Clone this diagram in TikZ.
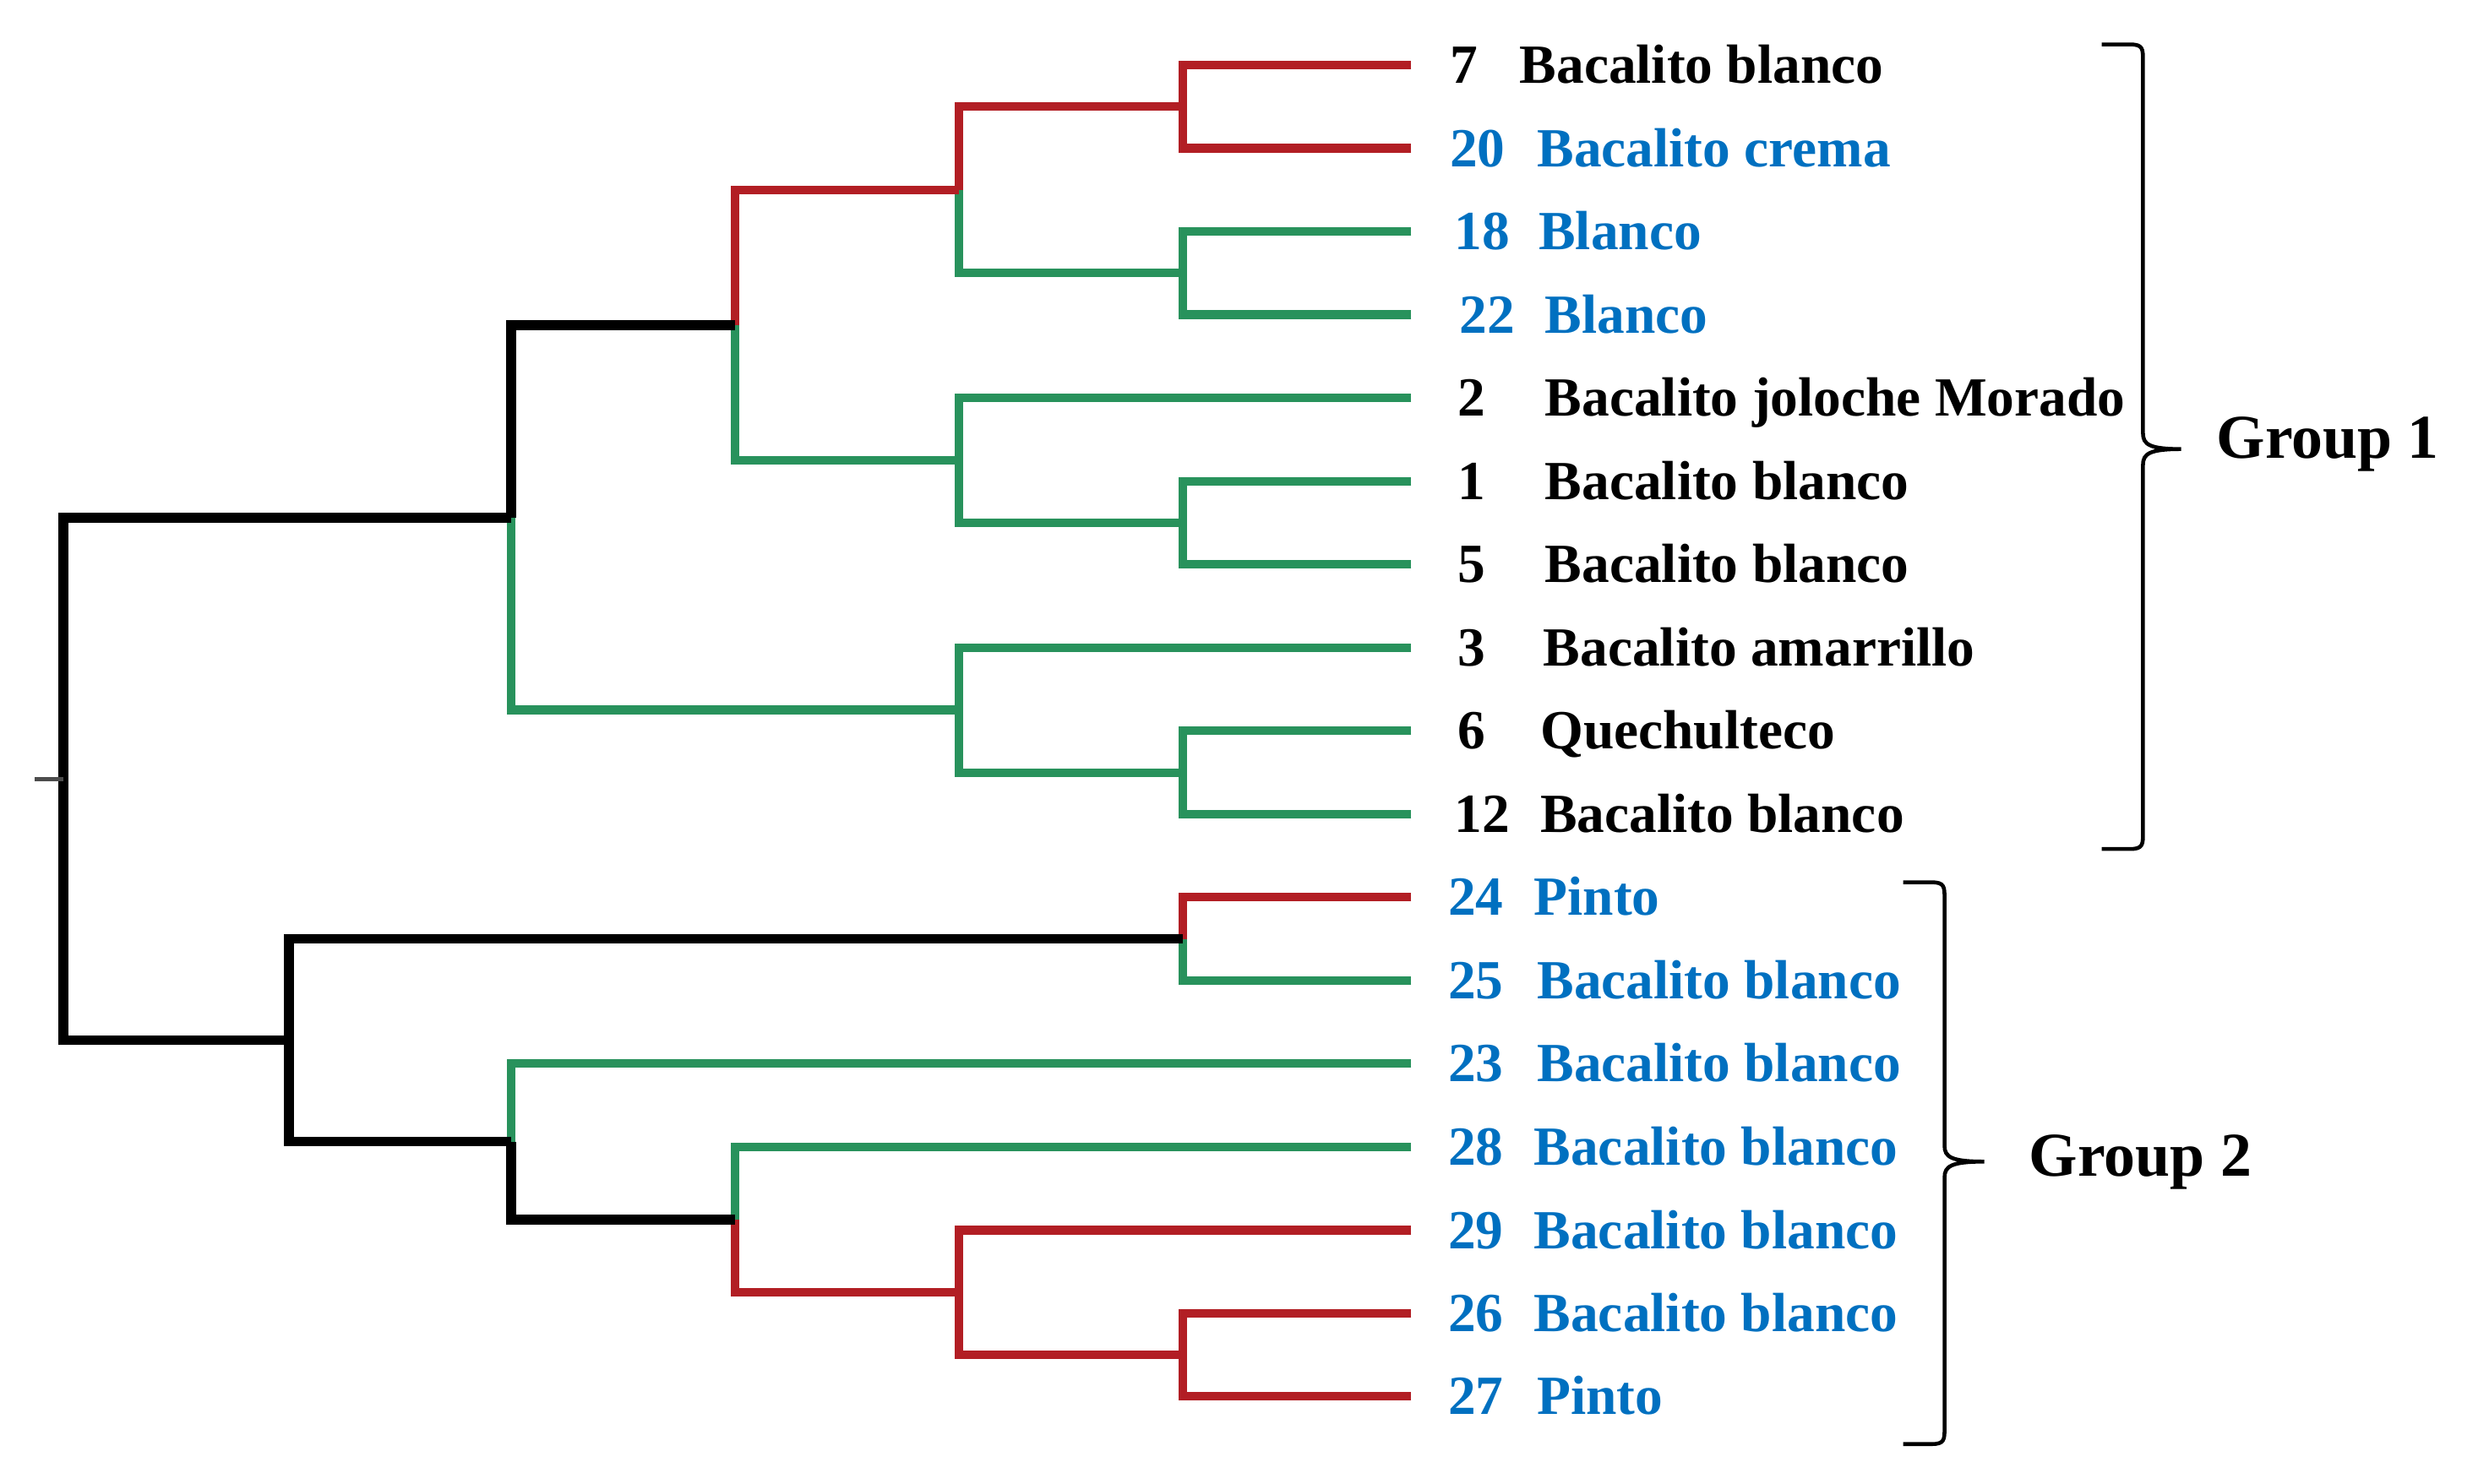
\documentclass[tikz,border=0pt]{standalone}
\usepackage{fontspec}
\setmainfont{Liberation Serif}
\definecolor{tred}{RGB}{178,30,36}
\definecolor{tgreen}{RGB}{40,146,92}
\definecolor{tblue}{RGB}{0,112,192}
\newcommand\leaf[7]{%
  \coordinate (l#1) at (889,#2);
  \node[lab,text=#7] (n#1) at (#3,#2+11.5) {#4};
  \node[lab,text=#7] (t#1) at (#5,#2+11.5) {#6};}
\begin{document}
\begin{tikzpicture}[x=0.01879cm,y=-0.01879cm,
  br/.style={line width=2.9pt},
  blk/.style={line width=3.3pt,black},
  rd/.style={br,tred},
  gr/.style={br,tgreen},
  lab/.style={anchor=base west,inner sep=0pt,font=\bfseries\fontsize{18.6}{20}\selectfont},
  grp/.style={anchor=base west,inner sep=0pt,font=\bfseries\fontsize{21}{24}\selectfont},
  brace/.style={line width=1.3pt,black}]
\useasboundingbox (0,0) rectangle (1568,935);
% leaves
\leaf{7}{41}{913}{7}{957}{Bacalito blanco}{black}
\leaf{20}{93.4}{913}{20}{968}{Bacalito crema}{tblue}
\leaf{18}{145.9}{916}{18}{969}{Blanco}{tblue}
\leaf{22}{198.3}{919}{22}{973}{Blanco}{tblue}
\leaf{2}{250.8}{918}{2}{973}{Bacalito joloche Morado}{black}
\leaf{1}{303.2}{918}{1}{973}{Bacalito blanco}{black}
\leaf{5}{355.6}{918}{5}{973}{Bacalito blanco}{black}
\leaf{3}{408.1}{918}{3}{972}{Bacalito amarrillo}{black}
\leaf{6}{460.5}{918}{6}{970}{Quechulteco}{black}
\leaf{12}{513}{916}{12}{970}{Bacalito blanco}{black}
\leaf{24}{565.4}{912}{24}{966}{Pinto}{tblue}
\leaf{25}{617.8}{912}{25}{968}{Bacalito blanco}{tblue}
\leaf{23}{670.3}{912}{23}{968}{Bacalito blanco}{tblue}
\leaf{28}{722.7}{912}{28}{966}{Bacalito blanco}{tblue}
\leaf{29}{775.2}{912}{29}{966}{Bacalito blanco}{tblue}
\leaf{26}{827.6}{912}{26}{966}{Bacalito blanco}{tblue}
\leaf{27}{880}{912}{27}{968}{Pinto}{tblue}
% internal junctions
\coordinate (E) at (745,67.2);
\coordinate (F) at (745,172.1);
\coordinate (D) at (604,119.7);
\coordinate (H) at (745,329.4);
\coordinate (G) at (604,290.1);
\coordinate (C) at (463,204.9);
\coordinate (J) at (745,486.8);
\coordinate (I) at (604,447.4);
\coordinate (A) at (322,326.2);
\coordinate (K) at (745,591.6);
\coordinate (O) at (745,853.8);
\coordinate (N) at (604,814.5);
\coordinate (M) at (463,768.6);
\coordinate (L) at (322,719.4);
\coordinate (B) at (182,655.5);
\coordinate (R) at (40,490.9);
\coordinate (S) at (22,490.9);
% upper cluster
\draw[rd] (l7) -| (E);
\draw[rd] (l20) -| (E);
\draw[gr] (l18) -| (F);
\draw[gr] (l22) -| (F);
\draw[rd] (E) -| (D);
\draw[gr] (F) -| (D);
\draw[gr] (l2) -| (G);
\draw[gr] (l1) -| (H);
\draw[gr] (l5) -| (H);
\draw[gr] (H) -| (G);
\draw[rd] (D) -| (C);
\draw[gr] (G) -| (C);
\draw[gr] (l3) -| (I);
\draw[gr] (l6) -| (J);
\draw[gr] (l12) -| (J);
\draw[gr] (J) -| (I);
\draw[gr] (I) -| (A);
\draw[blk] (C) -| (A);
% lower cluster
\draw[rd] (l24) -| (K);
\draw[gr] (l25) -| (K);
\draw[gr] (l23) -| (L);
\draw[gr] (l28) -| (M);
\draw[rd] (l29) -| (N);
\draw[rd] (l26) -| (O);
\draw[rd] (l27) -| (O);
\draw[rd] (O) -| (N);
\draw[rd] (N) -| (M);
\draw[blk] (M) -| (L);
\draw[blk] (K) -| (B);
\draw[blk] (L) -| (B);
% root
\draw[blk] (A) -| (R);
\draw[blk] (B) -| (R);
\draw[line width=1.3pt,black!70] (R) -- (S);
% braces
\draw[brace] (1324,28) -- (1342,28) .. controls (1350,28) and (1350,31) .. (1350,38)
  -- (1350,273) .. controls (1350,280) and (1354,283) .. (1374,283)
  .. controls (1354,283) and (1350,286) .. (1350,293)
  -- (1350,525) .. controls (1350,532) and (1350,535) .. (1342,535) -- (1324,535);
\draw[brace] (1199,556) -- (1217,556) .. controls (1225,556) and (1225,559) .. (1225,566)
  -- (1225,722) .. controls (1225,729) and (1229,732) .. (1250,732)
  .. controls (1229,732) and (1225,735) .. (1225,742)
  -- (1225,900) .. controls (1225,907) and (1225,910) .. (1217,910) -- (1199,910);
\node[grp] (g1) at (1396,289) {Group 1};
\node[grp] (g2) at (1278,741) {Group 2};
\end{tikzpicture}
\end{document}
